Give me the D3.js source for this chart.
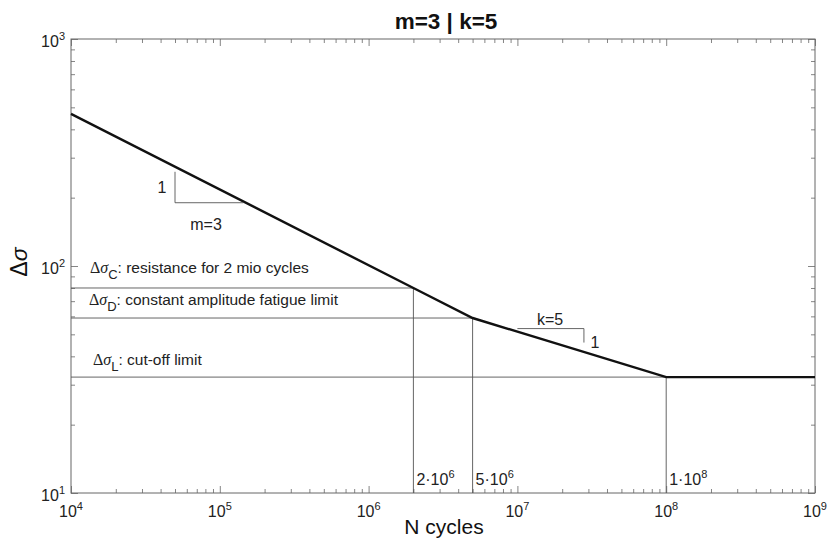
<!DOCTYPE html>
<html><head><meta charset="utf-8">
<script src="https://cdn.jsdelivr.net/npm/d3@7"></script>
<style>
body{margin:0;background:#fff;}
text{font-family:"Liberation Sans",Arial,Helvetica,sans-serif;}
</style></head>
<body>
<svg id="c" width="827" height="539"></svg>
<script>
// ---- data ----
const curveN = [1e4, 2e6, 5e6, 1e8, 1e9];
const curveS = [468, 80, 59, 32.4, 32.4];
const refNames = ["C", "D", "L"];
const refS = [80, 59, 32.4];
const refN = [2e6, 5e6, 1e8];
const refText = [": resistance for 2 mio cycles", ": constant amplitude fatigue limit", ": cut-off limit"];
const refLabelMant = ["2", "5", "1"];
const refLabelExp = ["6", "6", "8"];
const xDecades = [4, 5, 6, 7, 8, 9];
const yDecades = [1, 2, 3];
const slopeM = {n0: 5e4, n1: 1.44e5, s0: 260, s1: 190};
const slopeK = {n0: 1e7, n1: 2.8e7, s0: 53, s1: 46};

const svg = d3.select("#c");
const L = 71, R = 815, T = 39, B = 493;
const x = d3.scaleLog().domain([1e4, 1e9]).range([L, R]);
const y = d3.scaleLog().domain([10, 1000]).range([B, T]);

const minorX = [], minorY = [];
xDecades.slice(0, -1).forEach(d => { for (let k = 2; k <= 9; k++) minorX.push(k * Math.pow(10, d)); });
yDecades.slice(0, -1).forEach(d => { for (let k = 2; k <= 9; k++) minorY.push(k * Math.pow(10, d)); });
const majX = xDecades.map(d => Math.pow(10, d));
const majY = yDecades.map(d => Math.pow(10, d));

const axColor = "#666";
const txt = "#222";
function styleAxis(g) {
  g.select(".domain").remove();
  g.selectAll(".tick line").attr("stroke", axColor).attr("stroke-width", 0.8);
}
// minor ticks (inward) on all four sides
svg.append("g").attr("transform", `translate(0,${B})`).call(d3.axisBottom(x).tickValues(minorX).tickSize(-4).tickFormat("")).call(styleAxis);
svg.append("g").attr("transform", `translate(0,${T})`).call(d3.axisTop(x).tickValues(minorX).tickSize(-4).tickFormat("")).call(styleAxis);
svg.append("g").attr("transform", `translate(${L},0)`).call(d3.axisLeft(y).tickValues(minorY).tickSize(-4).tickFormat("")).call(styleAxis);
svg.append("g").attr("transform", `translate(${R},0)`).call(d3.axisRight(y).tickValues(minorY).tickSize(-4).tickFormat("")).call(styleAxis);
// major ticks
svg.append("g").attr("transform", `translate(0,${B})`).call(d3.axisBottom(x).tickValues(majX).tickSize(-7).tickFormat("")).call(styleAxis);
svg.append("g").attr("transform", `translate(0,${T})`).call(d3.axisTop(x).tickValues(majX).tickSize(-7).tickFormat("")).call(styleAxis);
svg.append("g").attr("transform", `translate(${L},0)`).call(d3.axisLeft(y).tickValues(majY).tickSize(-7).tickFormat("")).call(styleAxis);
svg.append("g").attr("transform", `translate(${R},0)`).call(d3.axisRight(y).tickValues(majY).tickSize(-7).tickFormat("")).call(styleAxis);

// tick labels with superscripts
majX.forEach((v, i) => {
  const t = svg.append("text").attr("x", x(v)).attr("y", 517).attr("text-anchor", "middle")
    .attr("font-size", 16).attr("fill", txt);
  t.append("tspan").text("10");
  t.append("tspan").attr("dy", -7).attr("font-size", 11).text(xDecades[i]);
});
majY.forEach((v, i) => {
  const t = svg.append("text").attr("x", 65).attr("y", y(v) + 8).attr("text-anchor", "end")
    .attr("font-size", 16).attr("fill", txt);
  t.append("tspan").text("10");
  t.append("tspan").attr("dy", -7).attr("font-size", 11).text(yDecades[i]);
});

// frame
svg.append("rect").attr("x", L).attr("y", T).attr("width", R - L).attr("height", B - T)
  .attr("fill", "none").attr("stroke", axColor).attr("stroke-width", 1);

// reference lines
const thin = "#555";
refS.forEach((s, i) => {
  const xe = i === 2 ? x(1e9) : x(refN[i]);
  svg.append("line").attr("x1", L).attr("x2", xe).attr("y1", y(s)).attr("y2", y(s))
    .attr("stroke", thin).attr("stroke-width", 0.9);
  svg.append("line").attr("x1", x(refN[i])).attr("x2", x(refN[i])).attr("y1", B).attr("y2", y(s))
    .attr("stroke", thin).attr("stroke-width", 0.9);
});

// curve
const pts = curveN.map((n, i) => [x(n), y(curveS[i])]);
svg.append("path").attr("d", d3.line()(pts)).attr("fill", "none").attr("stroke", "#111").attr("stroke-width", 2.4);

// reference labels
const labY = [273, 305, 365];
const labX = [90, 89, 93];
refNames.forEach((nm, i) => {
  const t = svg.append("text").attr("x", labX[i]).attr("y", labY[i]).attr("font-size", 15.5).attr("fill", txt);
  t.append("tspan").attr("font-family", "'Liberation Serif','DejaVu Serif',serif").attr("font-size", 16).text("Δ");
  t.append("tspan").attr("font-family", "'Liberation Serif','DejaVu Serif',serif").attr("font-style", "italic").attr("font-size", 16).text("σ");
  t.append("tspan").attr("dy", 6).attr("font-size", 13).text(nm);
  t.append("tspan").attr("dy", -6).text(refText[i]);
});
refN.forEach((n, i) => {
  const t = svg.append("text").attr("x", x(n) + 3).attr("y", 485).attr("font-size", 16).attr("fill", txt);
  t.append("tspan").text(refLabelMant[i] + "·10");
  t.append("tspan").attr("dy", -7).attr("font-size", 11).text(refLabelExp[i]);
});

// slope triangles
svg.append("path").attr("d", d3.line()([[x(slopeM.n0), y(slopeM.s0)], [x(slopeM.n0), y(slopeM.s1)], [x(slopeM.n1), y(slopeM.s1)]]))
  .attr("fill", "none").attr("stroke", thin).attr("stroke-width", 0.9);
svg.append("text").attr("x", x(slopeM.n0) - 13).attr("y", 193).attr("text-anchor", "middle").attr("font-size", 16).attr("fill", txt).text("1");
svg.append("text").attr("x", 206).attr("y", 230).attr("text-anchor", "middle").attr("font-size", 16).attr("fill", txt).text("m=3");

svg.append("path").attr("d", d3.line()([[x(slopeK.n0), y(slopeK.s0)], [x(slopeK.n1), y(slopeK.s0)], [x(slopeK.n1), y(slopeK.s1)]]))
  .attr("fill", "none").attr("stroke", thin).attr("stroke-width", 0.9);
svg.append("text").attr("x", 550).attr("y", 325).attr("text-anchor", "middle").attr("font-size", 16).attr("fill", txt).text("k=5");
svg.append("text").attr("x", x(slopeK.n1) + 11).attr("y", 348).attr("text-anchor", "middle").attr("font-size", 16).attr("fill", txt).text("1");

// titles
svg.append("text").attr("x", 446).attr("y", 29).attr("text-anchor", "middle").attr("font-size", 22.5).attr("font-weight", "bold").attr("fill", "#111").text("m=3 | k=5");
svg.append("text").attr("x", 444).attr("y", 534).attr("text-anchor", "middle").attr("font-size", 21).attr("fill", "#111").text("N cycles");
const yt = svg.append("text").attr("transform", "translate(27,262) rotate(-90)").attr("text-anchor", "middle")
  .attr("font-family", "'Liberation Serif','DejaVu Serif',serif").attr("font-size", 23).attr("fill", "#111");
yt.append("tspan").text("Δ");
yt.append("tspan").attr("font-style", "italic").text("σ");
</script>
</body></html>
